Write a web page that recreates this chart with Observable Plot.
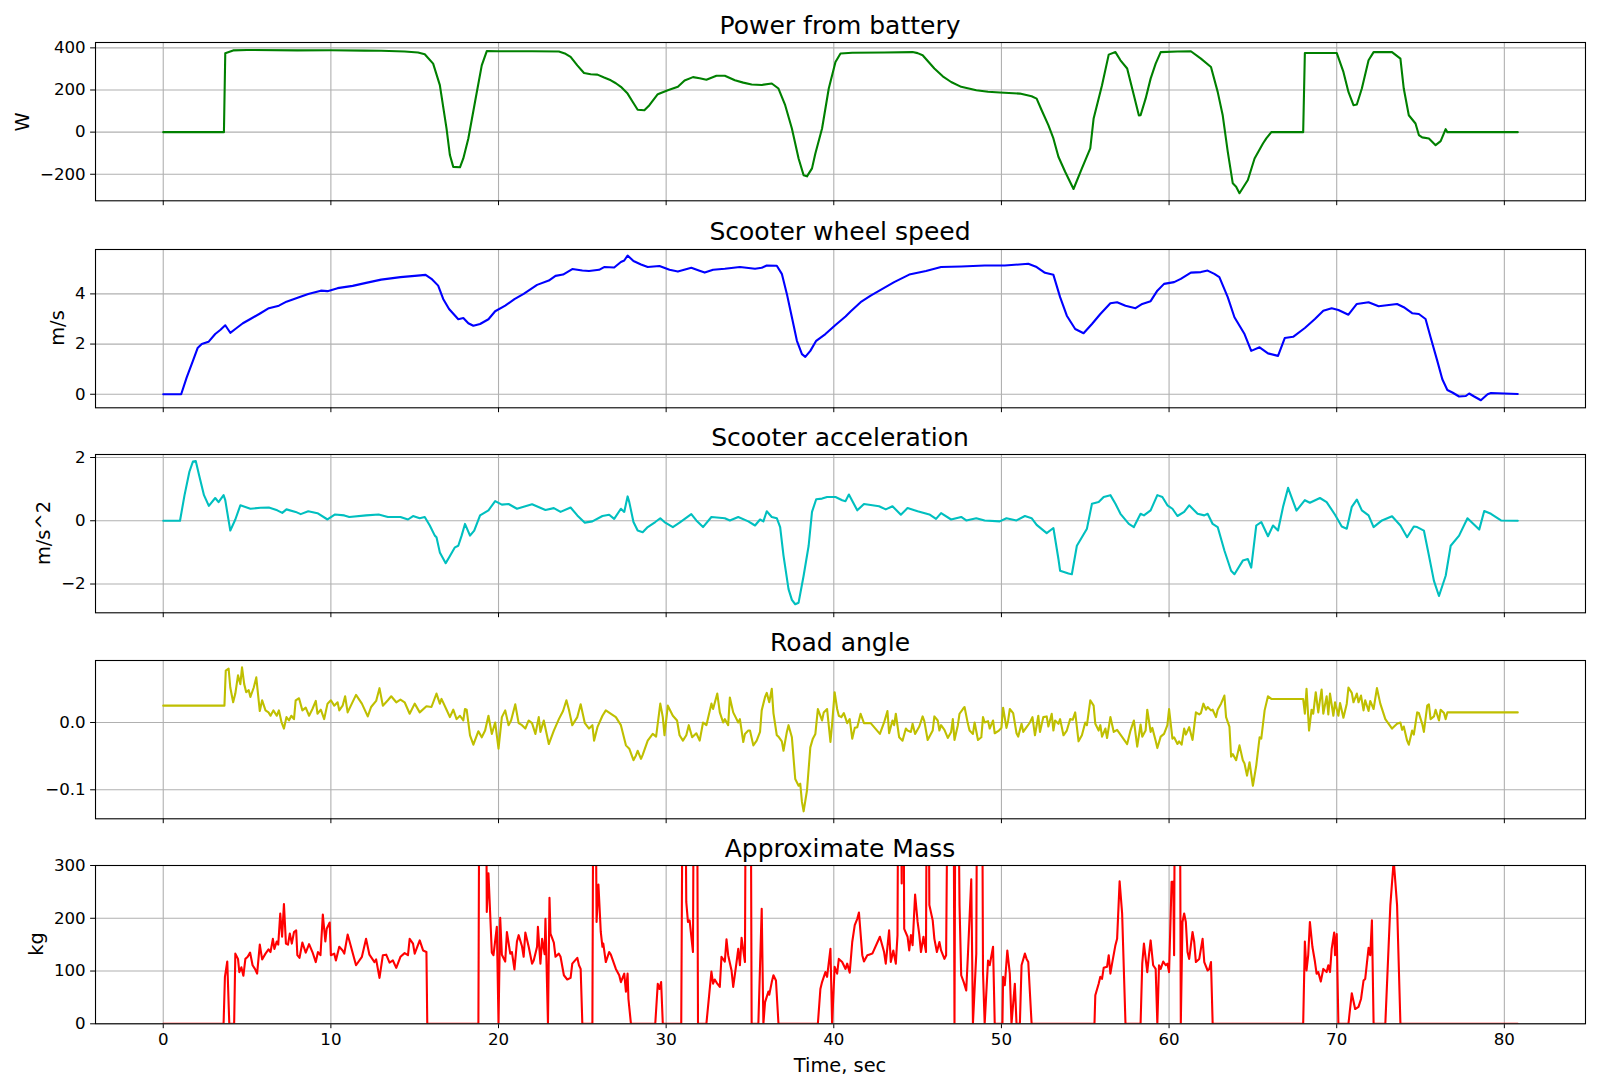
<!DOCTYPE html>
<html><head><meta charset="utf-8">
<script src="https://cdn.jsdelivr.net/npm/d3@7"></script>
<script src="https://cdn.jsdelivr.net/npm/@observablehq/plot@0.6"></script>
<style>
body{margin:0;background:#fff;}
#fig{position:relative;width:1600px;height:1091px;font-family:"DejaVu Sans",sans-serif;color:#000;overflow:hidden;background:#fff}
.title{position:absolute;left:95px;width:1490px;text-align:center;font-size:25px;line-height:1;white-space:nowrap}
.ylab{position:absolute;font-size:19.4px;line-height:1.164;white-space:nowrap;transform:translate(-50%,-50%) rotate(-90deg)}
.xlab{position:absolute;left:95px;width:1490px;text-align:center;font-size:19.4px;line-height:1;white-space:nowrap}
.panel{position:absolute;left:0}
</style></head><body><div id="fig"></div><script>
// ---------------- data (time in s, value) ----------------
const xTicks = [0,10,20,30,40,50,60,70,80];
const titles = ["Power from battery","Scooter wheel speed","Scooter acceleration","Road angle","Approximate Mass"];
const yLabels = ["W","m/s","m/s^2","","kg"];
const powerTicks = [-200,0,200,400];
const speedTicks = [0,2,4];
const accelTicks = [-2,0,2];
const angleTicks = [-0.1,0.0];
const massTicks = [0,100,200,300];

const power = [[0,0],[3.62,0],[3.7,375],[4.17,388],[5,390],[8,388],[10,389],[12,387],[13,386],[14.4,383],[15.2,378],[15.6,370],[16.1,325],[16.5,223],[16.9,17],[17.1,-109],[17.3,-165],[17.7,-167],[17.9,-125],[18.2,-30],[18.6,144],[19.0,317],[19.3,385],[20,384],[22,384],[23.6,383],[24.0,372],[24.3,357],[24.7,317],[25.1,281],[25.5,275],[25.9,273],[26.3,259],[26.7,246],[27.0,232],[27.3,215],[27.7,183],[28.0,144],[28.3,106],[28.7,104],[29.0,128],[29.5,180],[30.1,199],[30.7,215],[31.1,245],[31.6,261],[32.0,256],[32.4,249],[33.0,268],[33.5,268],[34.1,246],[34.6,235],[35.1,226],[35.7,224],[36.3,231],[36.7,207],[37.1,128],[37.5,17],[37.9,-125],[38.2,-205],[38.4,-210],[38.7,-172],[38.9,-101],[39.3,17],[39.7,207],[40.1,333],[40.4,373],[41.1,377],[43,378],[44.7,380],[45.0,375],[45.3,365],[46.0,302],[46.5,265],[47.0,238],[47.6,215],[48.5,199],[49.2,192],[49.9,188],[51.1,183],[51.8,170],[52.1,159],[52.4,104],[52.8,33],[53.1,-30],[53.4,-117],[53.8,-188],[54.3,-270],[54.8,-172],[55.3,-77],[55.5,65],[56.0,223],[56.4,368],[56.8,380],[57.1,341],[57.5,302],[57.9,175],[58.2,79],[58.3,80],[58.6,159],[58.9,254],[59.2,325],[59.5,380],[60.5,383],[61.3,384],[61.9,349],[62.5,309],[62.9,191],[63.2,80],[63.5,-93],[63.8,-243],[64.0,-259],[64.2,-290],[64.7,-227],[65.1,-125],[65.6,-54],[65.8,-30],[66.1,0],[68.0,0],[68.1,376],[70.0,376],[70.4,286],[70.7,191],[71.0,128],[71.2,131],[71.5,207],[71.9,341],[72.2,380],[73.3,380],[73.8,349],[74.0,207],[74.3,80],[74.7,41],[74.9,-14],[75.1,-25],[75.5,-30],[75.9,-62],[76.2,-43],[76.5,14],[76.6,0],[80.8,0]];

const speed = [[0,0],[1.07,0],[1.4,0.67],[1.77,1.33],[2.05,1.84],[2.3,2.0],[2.7,2.09],[3.1,2.4],[3.4,2.56],[3.7,2.75],[4.0,2.45],[4.3,2.6],[4.75,2.83],[5.2,3.0],[5.8,3.23],[6.3,3.43],[6.9,3.53],[7.35,3.69],[8.1,3.87],[8.65,4.0],[9.4,4.13],[9.8,4.11],[10.4,4.23],[11.3,4.32],[12.1,4.44],[13.0,4.57],[14.15,4.67],[15.0,4.72],[15.65,4.76],[16.0,4.6],[16.4,4.33],[16.7,3.8],[17.05,3.4],[17.6,2.99],[17.9,3.04],[18.2,2.83],[18.5,2.73],[18.9,2.8],[19.4,2.99],[19.8,3.31],[20.4,3.53],[20.95,3.79],[21.5,4.0],[22.3,4.36],[23.0,4.53],[23.4,4.72],[23.85,4.77],[24.4,4.99],[25.0,4.93],[25.4,4.91],[26.0,4.96],[26.3,5.07],[26.9,5.05],[27.3,5.27],[27.5,5.33],[27.7,5.53],[28.05,5.31],[28.5,5.17],[28.9,5.07],[29.6,5.11],[30.2,4.96],[30.7,4.89],[31.5,5.04],[31.95,4.93],[32.3,4.85],[32.8,4.96],[33.5,5.0],[34.4,5.07],[35.3,5.0],[35.7,5.04],[36.0,5.13],[36.6,5.12],[36.9,4.8],[37.2,4.0],[37.5,3.07],[37.8,2.13],[38.1,1.6],[38.3,1.49],[38.6,1.73],[38.95,2.13],[39.5,2.4],[40.1,2.76],[40.7,3.1],[41.0,3.3],[41.6,3.67],[42.2,3.93],[42.9,4.2],[43.6,4.47],[44.5,4.77],[45.5,4.91],[46.4,5.07],[47.6,5.09],[49.0,5.13],[50.2,5.13],[51.6,5.2],[52.1,5.07],[52.6,4.84],[53.1,4.76],[53.5,3.87],[53.9,3.13],[54.4,2.6],[54.9,2.43],[55.4,2.8],[55.9,3.2],[56.5,3.63],[56.9,3.67],[57.4,3.53],[58.0,3.43],[58.4,3.6],[58.9,3.71],[59.3,4.13],[59.7,4.4],[60.3,4.47],[60.7,4.6],[61.3,4.85],[61.9,4.87],[62.3,4.93],[62.7,4.8],[63.0,4.67],[63.5,3.87],[63.9,3.07],[64.5,2.4],[64.9,1.73],[65.4,1.87],[65.9,1.63],[66.5,1.53],[66.9,2.24],[67.4,2.29],[68.1,2.64],[68.7,3.0],[69.2,3.33],[69.7,3.43],[70.1,3.36],[70.7,3.17],[71.2,3.6],[71.9,3.67],[72.5,3.51],[73.6,3.6],[74.0,3.47],[74.5,3.23],[74.9,3.2],[75.3,3.0],[75.6,2.27],[76.0,1.33],[76.3,0.6],[76.6,0.17],[76.9,0.07],[77.3,-0.09],[77.7,-0.07],[77.9,0.03],[78.2,-0.09],[78.6,-0.24],[79.0,0],[79.2,0.05],[80.8,0.01]];

const accel = [[0,0],[1.0,0],[1.27,0.81],[1.56,1.55],[1.77,1.87],[1.94,1.89],[2.14,1.44],[2.43,0.81],[2.72,0.47],[3.1,0.72],[3.3,0.59],[3.6,0.81],[3.7,0.65],[4.0,-0.31],[4.3,0.04],[4.6,0.49],[5.2,0.38],[5.8,0.41],[6.3,0.42],[6.8,0.33],[7.1,0.25],[7.35,0.36],[7.9,0.28],[8.2,0.21],[8.65,0.3],[9.2,0.24],[9.8,0.04],[10.25,0.2],[10.8,0.17],[11.1,0.12],[12.1,0.17],[12.85,0.2],[13.4,0.12],[14.15,0.12],[14.6,0.04],[14.9,0.15],[15.3,0.08],[15.6,0.12],[15.9,-0.15],[16.2,-0.47],[16.3,-0.52],[16.5,-1.0],[16.85,-1.34],[17.05,-1.16],[17.4,-0.84],[17.6,-0.79],[17.8,-0.47],[18.0,-0.1],[18.3,-0.47],[18.55,-0.31],[18.9,0.17],[19.4,0.33],[19.8,0.62],[20.2,0.51],[20.6,0.53],[21.1,0.38],[22.0,0.52],[22.8,0.34],[23.3,0.4],[23.7,0.28],[24.3,0.42],[24.7,0.17],[25.15,-0.06],[25.6,-0.02],[26.2,0.15],[26.6,0.19],[26.9,0.06],[27.3,0.38],[27.5,0.28],[27.7,0.77],[27.8,0.59],[28.05,-0.04],[28.3,-0.31],[28.6,-0.36],[28.9,-0.2],[29.35,-0.04],[29.65,0.08],[29.9,-0.04],[30.4,-0.2],[30.8,-0.06],[31.5,0.21],[31.8,0.01],[32.2,-0.2],[32.7,0.12],[33.5,0.08],[33.8,0.01],[34.3,0.12],[34.9,-0.02],[35.3,-0.15],[35.6,0.04],[35.8,-0.02],[36.0,0.3],[36.3,0.12],[36.6,0.08],[36.8,-0.2],[37.0,-1.1],[37.3,-2.16],[37.5,-2.5],[37.7,-2.64],[37.9,-2.59],[38.2,-1.74],[38.5,-0.79],[38.7,0.28],[38.95,0.68],[39.3,0.7],[39.6,0.75],[40.1,0.75],[40.5,0.65],[40.7,0.62],[40.9,0.83],[41.4,0.33],[41.8,0.53],[42.7,0.46],[43.1,0.36],[43.5,0.46],[44.0,0.19],[44.4,0.4],[45.0,0.3],[45.7,0.2],[46.1,0.06],[46.4,0.24],[47.0,0.04],[47.6,0.12],[47.9,0.01],[48.5,0.08],[49.0,0.01],[49.9,-0.02],[50.3,0.08],[50.9,0.01],[51.4,0.15],[51.8,0.08],[52.1,-0.13],[52.7,-0.39],[53.1,-0.23],[53.4,-1.21],[53.5,-1.58],[54.0,-1.67],[54.2,-1.69],[54.5,-0.79],[54.8,-0.52],[55.1,-0.25],[55.4,0.54],[55.8,0.59],[56.1,0.75],[56.5,0.81],[56.8,0.54],[57.1,0.22],[57.6,-0.1],[57.9,-0.2],[58.3,0.22],[58.5,0.17],[58.9,0.33],[59.3,0.81],[59.6,0.75],[59.9,0.49],[60.2,0.38],[60.5,0.15],[60.9,0.28],[61.2,0.49],[61.7,0.22],[62.1,0.17],[62.3,0.22],[62.6,-0.1],[62.9,-0.2],[63.3,-0.94],[63.7,-1.58],[63.9,-1.69],[64.4,-1.26],[64.7,-1.21],[64.9,-1.48],[65.2,-0.15],[65.5,-0.04],[65.9,-0.49],[66.2,-0.15],[66.5,-0.31],[66.8,0.44],[67.1,1.04],[67.6,0.32],[68.1,0.65],[68.4,0.57],[69.0,0.72],[69.4,0.59],[69.9,0.19],[70.3,-0.18],[70.6,-0.25],[70.9,0.44],[71.2,0.67],[71.5,0.33],[71.9,0.17],[72.2,-0.2],[72.7,0.01],[73.3,0.14],[73.8,-0.15],[74.2,-0.52],[74.6,-0.18],[74.8,-0.2],[75.2,-0.31],[75.5,-1.1],[75.8,-1.9],[76.1,-2.38],[76.5,-1.74],[76.8,-0.79],[77.3,-0.47],[77.8,0.08],[78.5,-0.28],[78.8,0.31],[79.2,0.22],[79.8,0.01],[80.8,0]];

const angle = [[0,0.025],[3.65,0.025],[3.73,0.077],[3.9,0.08],[4.0,0.052],[4.17,0.03],[4.3,0.043],[4.46,0.07],[4.6,0.057],[4.7,0.082],[4.83,0.057],[4.95,0.045],[5.1,0.048],[5.2,0.038],[5.4,0.052],[5.55,0.067],[5.76,0.017],[5.9,0.033],[6.1,0.018],[6.28,0.015],[6.4,0.01],[6.57,0.018],[6.77,0.01],[6.9,0.018],[7.06,0.0],[7.2,-0.009],[7.35,0.008],[7.5,0.003],[7.64,0.01],[7.8,0.005],[7.9,0.033],[8.1,0.036],[8.3,0.018],[8.5,0.022],[8.7,0.01],[8.9,0.02],[9.1,0.032],[9.2,0.013],[9.4,0.019],[9.6,0.005],[9.8,0.028],[10.0,0.033],[10.2,0.025],[10.4,0.03],[10.5,0.018],[10.7,0.025],[10.85,0.039],[11.0,0.015],[11.5,0.041],[11.85,0.028],[12.2,0.009],[12.4,0.023],[12.7,0.032],[12.9,0.051],[13.1,0.025],[13.4,0.033],[13.6,0.039],[13.9,0.03],[14.15,0.034],[14.4,0.03],[14.7,0.013],[15.0,0.028],[15.3,0.015],[15.7,0.024],[16.0,0.023],[16.3,0.043],[16.5,0.028],[16.6,0.035],[16.9,0.019],[17.1,0.008],[17.3,0.019],[17.5,0.005],[17.7,0.01],[17.9,0.003],[18.0,0.02],[18.1,0.019],[18.3,-0.019],[18.5,-0.033],[18.8,-0.013],[19.0,-0.022],[19.2,-0.012],[19.4,0.01],[19.6,-0.017],[19.8,0.0],[20.0,-0.039],[20.2,0.008],[20.4,0.018],[20.6,-0.004],[20.75,0.003],[21.0,0.027],[21.2,-0.001],[21.4,-0.004],[21.6,-0.009],[21.8,0.003],[22.0,-0.001],[22.2,-0.017],[22.4,0.008],[22.5,-0.014],[22.7,0.003],[23.0,-0.032],[23.3,-0.012],[23.6,0.005],[23.85,0.017],[24.05,0.033],[24.2,0.019],[24.4,-0.004],[24.7,0.008],[24.9,0.027],[25.15,-0.001],[25.4,-0.009],[25.6,-0.004],[25.7,-0.027],[25.9,-0.007],[26.2,0.01],[26.4,0.018],[27.0,0.008],[27.3,-0.004],[27.6,-0.034],[27.8,-0.039],[28.05,-0.056],[28.2,-0.049],[28.3,-0.042],[28.5,-0.054],[28.6,-0.048],[28.9,-0.027],[29.2,-0.017],[29.4,-0.021],[29.65,0.028],[29.8,0.008],[29.9,-0.019],[30.1,0.025],[30.4,0.01],[30.65,0.003],[30.8,-0.019],[31.0,-0.027],[31.2,-0.019],[31.35,-0.004],[31.55,-0.022],[31.8,-0.016],[32.0,-0.027],[32.2,0.0],[32.4,-0.004],[32.7,0.028],[32.8,0.02],[33.05,0.043],[33.2,0.015],[33.4,0.0],[33.5,0.005],[33.7,-0.004],[33.8,0.037],[34.0,0.015],[34.3,0.0],[34.4,0.005],[34.6,-0.029],[34.7,-0.017],[34.9,-0.012],[35.0,-0.012],[35.2,-0.034],[35.4,-0.027],[35.6,-0.014],[35.7,0.018],[35.9,0.038],[36.0,0.044],[36.15,0.03],[36.3,0.05],[36.4,0.014],[36.6,-0.019],[36.7,-0.021],[36.9,-0.028],[37.0,-0.042],[37.2,-0.014],[37.3,-0.004],[37.5,-0.022],[37.7,-0.084],[37.9,-0.094],[38.0,-0.091],[38.1,-0.118],[38.2,-0.132],[38.4,-0.101],[38.6,-0.037],[38.75,-0.024],[38.9,-0.017],[39.05,0.02],[39.3,0.003],[39.4,0.015],[39.6,0.02],[39.8,-0.029],[39.9,-0.002],[40.05,0.045],[40.2,0.02],[40.3,0.01],[40.45,0.008],[40.6,0.014],[40.8,-0.001],[40.95,0.005],[41.1,-0.024],[41.25,-0.008],[41.4,-0.007],[41.6,0.013],[41.8,-0.001],[42.2,-0.001],[42.75,-0.017],[43.0,0.0],[43.2,0.017],[43.3,-0.016],[43.5,0.003],[43.6,-0.004],[43.7,0.013],[43.9,-0.022],[44.1,-0.027],[44.3,-0.009],[44.4,-0.012],[44.6,-0.014],[44.7,-0.002],[44.85,-0.017],[45.1,-0.006],[45.3,0.009],[45.4,0.002],[45.6,-0.026],[45.9,-0.012],[46.0,0.009],[46.2,0.003],[46.3,-0.012],[46.4,-0.004],[46.6,-0.011],[46.8,-0.023],[47.0,-0.014],[47.1,0.005],[47.2,-0.026],[47.4,-0.004],[47.5,0.013],[47.7,0.02],[47.8,0.023],[48.0,-0.002],[48.1,-0.012],[48.3,-0.017],[48.4,0.0],[48.6,-0.026],[48.8,-0.022],[48.9,0.008],[49.0,0.0],[49.2,0.002],[49.3,-0.009],[49.5,0.003],[49.6,-0.016],[49.85,-0.012],[50.0,-0.008],[50.1,0.022],[50.3,-0.008],[50.4,0.003],[50.5,0.02],[50.7,0.014],[50.9,-0.016],[51.0,-0.021],[51.2,-0.002],[51.3,-0.014],[51.5,-0.007],[51.7,0.0],[51.85,0.008],[52.0,-0.019],[52.2,0.01],[52.3,-0.014],[52.5,0.008],[52.7,0.009],[52.8,-0.006],[53.0,0.013],[53.1,-0.012],[53.2,0.003],[53.4,-0.002],[53.5,0.005],[53.7,-0.019],[53.9,-0.012],[54.1,0.005],[54.25,0.004],[54.4,0.015],[54.6,-0.028],[54.8,-0.019],[55.0,0.0],[55.1,-0.004],[55.3,0.033],[55.5,0.025],[55.6,-0.002],[55.8,-0.012],[55.9,-0.004],[56.0,-0.021],[56.2,-0.009],[56.3,-0.023],[56.5,0.008],[56.7,-0.014],[56.9,-0.011],[57.1,-0.018],[57.5,-0.032],[57.7,-0.012],[57.9,0.003],[58.1,-0.036],[58.3,-0.003],[58.4,-0.021],[58.6,-0.012],[58.7,0.019],[58.9,-0.014],[59.0,-0.008],[59.2,-0.027],[59.3,-0.038],[59.5,-0.021],[59.7,-0.017],[59.9,-0.004],[60.0,0.02],[60.2,-0.024],[60.3,-0.022],[60.5,-0.032],[60.6,-0.028],[60.75,-0.033],[60.9,-0.009],[61.0,-0.018],[61.2,-0.007],[61.4,-0.026],[61.6,0.015],[61.8,0.012],[61.9,0.014],[62.05,0.028],[62.2,0.019],[62.3,0.023],[62.5,0.018],[62.6,0.019],[62.8,0.008],[62.9,0.019],[63.1,0.028],[63.3,0.04],[63.4,0.008],[63.6,-0.006],[63.7,-0.051],[63.8,-0.047],[64.0,-0.056],[64.2,-0.034],[64.4,-0.056],[64.5,-0.061],[64.65,-0.079],[64.8,-0.059],[65.0,-0.094],[65.2,-0.064],[65.4,-0.022],[65.5,-0.024],[65.7,0.018],[65.9,0.039],[66.1,0.035],[68.0,0.035],[68.1,0.013],[68.2,0.05],[68.35,-0.012],[68.5,0.019],[68.6,0.013],[68.75,0.045],[68.9,0.015],[69.0,0.033],[69.1,0.049],[69.2,0.013],[69.4,0.039],[69.5,0.012],[69.6,0.043],[69.8,0.01],[69.9,0.03],[70.1,0.01],[70.2,0.029],[70.4,0.007],[70.6,0.028],[70.7,0.052],[70.9,0.044],[71.0,0.03],[71.2,0.043],[71.3,0.03],[71.45,0.04],[71.6,0.018],[71.7,0.033],[71.9,0.017],[72.0,0.032],[72.2,0.02],[72.4,0.051],[72.6,0.028],[72.9,0.005],[73.3,-0.009],[73.6,-0.002],[73.8,0.0],[73.9,-0.011],[74.0,-0.006],[74.2,-0.027],[74.3,-0.033],[74.5,-0.012],[74.6,-0.018],[74.8,0.015],[74.9,0.014],[75.1,-0.002],[75.2,-0.014],[75.4,0.025],[75.5,0.027],[75.6,0.005],[75.8,0.009],[75.9,0.019],[76.1,0.003],[76.2,0.019],[76.4,0.014],[76.5,0.005],[76.6,0.015],[80.8,0.015]];

const mass = [[0,0],[3.6,0],[3.68,89],[3.82,118],[3.94,0],[4.23,0],[4.3,133],[4.46,123],[4.54,98],[4.66,107],[4.78,91],[4.9,123],[5.04,127],[5.18,135],[5.33,111],[5.47,104],[5.6,95],[5.76,150],[5.9,122],[6.1,133],[6.28,141],[6.4,136],[6.54,161],[6.63,142],[6.77,156],[6.86,150],[6.98,209],[7.09,165],[7.2,227],[7.32,152],[7.44,150],[7.55,171],[7.67,152],[7.8,174],[7.93,177],[8.0,130],[8.13,125],[8.3,154],[8.5,135],[8.7,151],[8.9,136],[9.1,117],[9.23,136],[9.38,130],[9.52,207],[9.67,156],[9.75,180],[9.93,192],[10.0,130],[10.2,133],[10.3,120],[10.5,146],[10.7,139],[10.8,133],[11.0,169],[11.1,158],[11.5,111],[11.85,127],[12.1,161],[12.3,131],[12.6,117],[12.7,122],[12.9,87],[13.1,130],[13.3,131],[13.5,116],[13.7,120],[13.9,106],[14.15,127],[14.4,134],[14.6,130],[14.7,161],[14.9,152],[15.0,133],[15.3,158],[15.5,139],[15.7,136],[15.75,0],[18.8,0],[18.9,900],[19.2,900],[19.3,212],[19.4,285],[19.6,135],[19.7,130],[19.9,184],[20.0,0],[20.1,201],[20.2,131],[20.4,118],[20.5,174],[20.7,133],[20.8,136],[20.95,103],[21.1,156],[21.2,168],[21.4,147],[21.5,127],[21.6,173],[21.8,146],[22.0,114],[22.1,120],[22.3,146],[22.35,184],[22.5,114],[22.6,161],[22.75,132],[22.8,199],[22.95,0],[23.04,239],[23.1,171],[23.3,154],[23.4,127],[23.6,133],[23.7,127],[23.9,92],[24.1,84],[24.3,87],[24.4,114],[24.7,125],[24.8,111],[24.9,104],[25.0,0],[25.6,0],[25.7,900],[25.85,193],[25.96,264],[26.1,174],[26.2,146],[26.25,152],[26.4,117],[26.6,136],[26.7,131],[27.0,104],[27.2,92],[27.3,79],[27.5,95],[27.6,61],[27.7,95],[27.75,47],[27.9,0],[29.35,0],[29.5,76],[29.6,66],[29.7,79],[29.8,0],[30.9,0],[31.05,900],[31.2,231],[31.3,193],[31.4,196],[31.6,136],[31.7,900],[31.8,900],[31.9,0],[32.4,0],[32.7,99],[32.8,76],[32.9,84],[33.05,76],[33.2,70],[33.3,127],[33.5,118],[33.6,160],[33.7,130],[33.9,101],[34.0,70],[34.2,117],[34.3,142],[34.4,111],[34.5,163],[34.7,117],[34.8,900],[35.0,900],[35.1,0],[35.5,0],[35.7,218],[35.8,0],[35.9,41],[36.0,51],[36.1,61],[36.15,55],[36.3,79],[36.4,92],[36.55,82],[36.7,0],[39.05,0],[39.2,66],[39.3,79],[39.5,98],[39.6,89],[39.8,142],[39.9,0],[40.05,108],[40.2,95],[40.3,123],[40.5,117],[40.7,104],[40.8,114],[40.95,97],[41.1,155],[41.25,187],[41.4,199],[41.5,211],[41.7,130],[41.8,118],[42.0,130],[42.1,131],[42.3,133],[42.75,165],[43.0,136],[43.1,114],[43.3,177],[43.4,117],[43.55,139],[43.7,114],[43.8,168],[43.9,900],[44.05,266],[44.1,900],[44.2,180],[44.4,165],[44.5,139],[44.6,168],[44.7,149],[44.85,245],[45.0,193],[45.1,169],[45.2,136],[45.35,165],[45.5,136],[45.6,900],[45.7,225],[45.9,196],[46.0,161],[46.15,136],[46.3,155],[46.4,139],[46.6,123],[46.7,130],[46.9,900],[47.1,900],[47.2,0],[47.3,900],[47.5,225],[47.6,92],[47.75,79],[47.9,63],[48.0,130],[48.2,274],[48.3,0],[48.5,133],[48.6,900],[48.8,900],[48.9,98],[49.0,0],[49.2,120],[49.3,111],[49.5,146],[49.6,0],[50.06,0],[50.1,89],[50.2,73],[50.35,139],[50.5,95],[50.6,0],[50.8,76],[50.9,0],[51.1,0],[51.2,111],[51.4,133],[51.5,123],[51.6,117],[51.8,0],[55.55,0],[55.6,54],[55.8,76],[55.9,89],[56.0,85],[56.1,106],[56.3,108],[56.4,130],[56.5,95],[56.6,114],[56.8,149],[56.9,161],[57.05,270],[57.2,209],[57.4,0],[58.3,0],[58.4,114],[58.5,152],[58.7,98],[58.8,130],[58.9,158],[59.05,111],[59.2,104],[59.3,0],[59.4,111],[59.5,104],[59.65,118],[59.8,111],[59.9,114],[60.0,98],[60.15,269],[60.25,269],[60.3,130],[60.4,900],[60.6,900],[60.7,0],[60.8,193],[60.9,209],[61.0,193],[61.1,136],[61.2,123],[61.4,174],[61.5,155],[61.6,117],[61.8,123],[62.0,161],[62.1,117],[62.3,101],[62.4,104],[62.5,117],[62.6,0],[68.0,0],[68.1,156],[68.2,101],[68.3,130],[68.4,193],[68.55,146],[68.7,118],[68.8,95],[68.9,98],[69.05,80],[69.2,104],[69.4,98],[69.5,111],[69.6,98],[69.7,142],[69.85,173],[69.9,130],[70.0,170],[70.1,0],[70.7,0],[70.9,58],[71.1,28],[71.3,32],[71.45,47],[71.6,82],[71.7,85],[71.9,144],[72.0,130],[72.1,196],[72.2,0],[72.9,0],[73.2,225],[73.4,310],[73.6,225],[73.8,0],[80.8,0]];

// ---------------- layout ----------------
const W = 1600, ML = 95, MR = 15, AXH = 158.3, MT = 12;
const TITLE_FS = 25;
const xDomain = [-4.04, 84.84];
const axTops = [42.4, 248.6, 454.1, 659.8, 865.2];
const panels = [
  {data: power, color: "#008000", domain: [-326, 425.5], ticks: powerTicks, fmt: d3.format("d"), lab: 22.6},
  {data: speed, color: "#0000ff", domain: [-0.54, 5.77], ticks: speedTicks, fmt: d3.format("d"), lab: 57.8},
  {data: accel, color: "#00bfbf", domain: [-2.91, 2.095], ticks: accelTicks, fmt: d3.format("d"), lab: 43.9},
  {data: angle, color: "#bfbf00", domain: [-0.1431, 0.0921], ticks: angleTicks, fmt: d3.format(".1f"), lab: 30},
  {data: mass, color: "#ff0000", domain: [0, 300], ticks: massTicks, fmt: d3.format("d"), lab: 36.6}
];

const fig = document.getElementById("fig");
panels.forEach((p, i) => {
  const last = i === panels.length - 1;
  const MB = last ? 34 : 10;
  const rows = p.data.map(([t, v]) => ({t, v}));
  const svg = Plot.plot({
    width: W, height: AXH + MT + MB,
    marginLeft: ML, marginRight: MR, marginTop: MT, marginBottom: MB,
    style: {fontFamily: "'DejaVu Sans', sans-serif", fontSize: "16.67px", color: "#000", background: "transparent", overflow: "visible"},
    x: {domain: xDomain, ticks: xTicks, tickSize: 4.9, tickPadding: 4.9, label: null,
        tickFormat: last ? d3.format("d") : () => ""},
    y: {domain: p.domain, ticks: p.ticks, tickSize: 4.9, tickPadding: 4.9, label: null, tickFormat: p.fmt},
    marks: [
      Plot.ruleX(xTicks, {stroke: "#b0b0b0", strokeWidth: 1.1}),
      Plot.ruleY(p.ticks, {stroke: "#b0b0b0", strokeWidth: 1.1}),
      Plot.line(rows, {x: "t", y: "v", stroke: p.color, strokeWidth: 2.1, clip: true}),
      Plot.frame({stroke: "#000", strokeWidth: 1.1})
    ]
  });
  svg.classList.add("panel");
  svg.style.top = (axTops[i] - MT) + "px";
  fig.appendChild(svg);

  const t = document.createElement("div");
  t.className = "title";
  t.textContent = titles[i];
  t.style.top = (axTops[i] - 8.3 - 0.846 * TITLE_FS) + "px";
  fig.appendChild(t);

  if (yLabels[i]) {
    const y = document.createElement("div");
    y.className = "ylab";
    y.textContent = yLabels[i];
    y.style.left = p.lab + "px";
    y.style.top = (axTops[i] + AXH / 2) + "px";
    fig.appendChild(y);
  }
});
const xl = document.createElement("div");
xl.className = "xlab";
xl.textContent = "Time, sec";
xl.style.top = (1072.5 - 0.846 * 19.4) + "px";
fig.appendChild(xl);
</script></body></html>
